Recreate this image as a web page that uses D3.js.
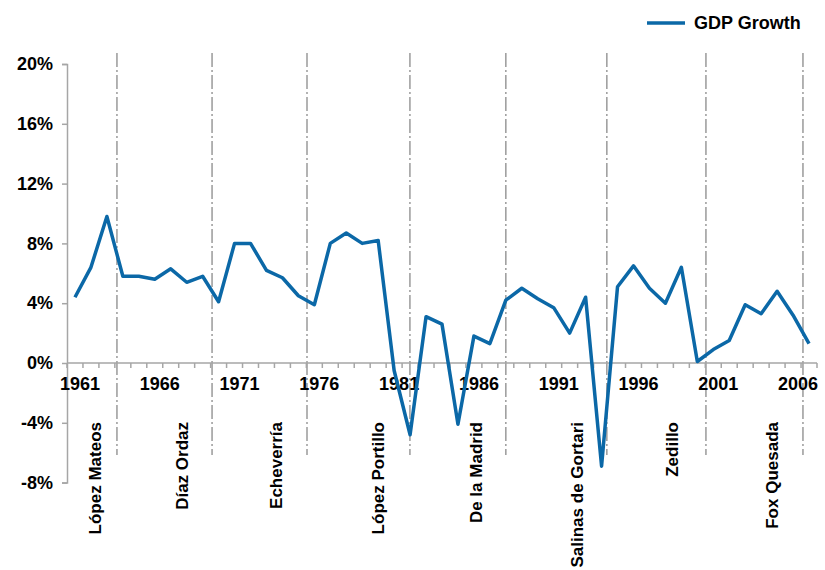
<body style="margin:0;background:#fff">
  <script src="https://d3js.org/d3.v7.min.js" charset="utf-8"></script>
  <script>
      // category years as labelled on the chart, and GDP growth (%)
      var years = [1961,1962,1963,1964,1965,1966,1967,1968,1969,1970,
                   1971,1972,1973,1974,1975,1976,1977,1978,1979,1980,
                   1981,1982,1983,1984,1985,1986,1987,1988,1989,1990,
                   1991,1992,1993,1994,1995,1996,1997,1998,1999,2000,
                   2001,2002,2003,2004,2005,2006,2007];
      var growth = [4.4,6.4,9.8,5.8,5.8,5.6,6.3,5.4,5.8,4.1,
                    8.0,8.0,6.2,5.7,4.5,3.9,8.0,8.7,8.0,8.2,
                    -0.5,-4.8,3.1,2.6,-4.1,1.8,1.3,4.2,5.0,4.3,
                    3.7,2.0,4.4,-6.9,5.1,6.5,5.0,4.0,6.4,0.1,
                    0.9,1.5,3.9,3.3,4.8,3.2,1.3];
      var yTicks = [-8,-4,0,4,8,12,16,20];
      var xLabelYears = [1961,1966,1971,1976,1981,1986,1991,1996,2001,2006];

      // presidential terms: where the dashed divider sits and where the name sits
      var presidents = ["López Mateos","Díaz Ordaz","Echeverría","López Portillo",
                        "De la Madrid","Salinas de Gortari","Zedillo","Fox Quesada"];
      var termEnds = [1963.63,1969.59,1975.54,1981.99,1988.0,1994.33,2000.54,2006.62];
      var nameAt = [1962.25,1967.71,1973.6,1979.99,1986.13,1992.46,1998.41,2004.68];

      var font = "'Liberation Sans', Arial, sans-serif";
      var blue = "#0b68a7";
      var grey = "#a6a6a6";

      var svg = d3.select("body").append("svg").attr("width", 825).attr("height", 570)
          .style("font-family", font).style("font-weight", "bold");

      var x = d3.scaleLinear().domain([1960.5, 2007.5]).range([67, 817]);
      var y = d3.scaleLinear().domain([-8, 20]).range([482.6, 64]);

      // president dividers
      svg.selectAll("line.term").data(termEnds).enter().append("line")
         .attr("class", "term")
         .attr("x1", function (d) { return x(d); })
         .attr("x2", function (d) { return x(d); })
         .attr("y1", 53).attr("y2", 455)
         .attr("stroke", "#9a9a9a").attr("stroke-width", 1.5)
         .attr("stroke-dasharray", "14,3,2,3");

      // y axis
      var yAxis = svg.append("g").attr("transform", "translate(" + x(1960.5) + ",0)")
         .call(d3.axisLeft(y).tickValues(yTicks).tickSize(5).tickPadding(9)
               .tickFormat(function (d) { return d + "%"; }));
      yAxis.select(".domain").attr("stroke", grey).attr("stroke-width", 1.5);
      yAxis.selectAll(".tick line").attr("stroke", grey).attr("stroke-width", 1.5);
      yAxis.selectAll("text").attr("font-size", 18).attr("font-family", font)
         .attr("font-weight", "bold").attr("fill", "#000");

      // x axis: minor ticks at category boundaries, labels every five years
      var bounds = years.map(function (d) { return d - 0.5; }).concat([2007.5]);
      var xAxis = svg.append("g").attr("transform", "translate(0," + y(0) + ")");
      xAxis.append("line").attr("x1", x(1960.5)).attr("x2", x(2007.5))
         .attr("stroke", grey).attr("stroke-width", 1.5);
      xAxis.selectAll("line.minor").data(bounds).enter().append("line")
         .attr("class", "minor")
         .attr("x1", function (d) { return x(d); })
         .attr("x2", function (d) { return x(d); })
         .attr("y1", 0).attr("y2", 5)
         .attr("stroke", grey).attr("stroke-width", 1.5);
      xAxis.selectAll("text").data(xLabelYears).enter().append("text")
         .attr("x", function (d) { return x(d) + 5; })
         .attr("y", 27)
         .attr("text-anchor", "middle").attr("font-size", 18)
         .text(function (d) { return d; });

      // president names
      svg.selectAll("text.pres").data(presidents).enter().append("text")
         .attr("class", "pres")
         .attr("transform", function (d, i) {
            return "translate(" + (x(nameAt[i]) + 6) + ",422) rotate(-90)";
         })
         .attr("text-anchor", "end").attr("font-size", 17)
         .text(function (d) { return d; });

      // growth line
      var line = d3.line()
         .x(function (d, i) { return x(years[i]); })
         .y(function (d) { return y(d); });
      svg.append("path").datum(growth)
         .attr("d", line)
         .attr("fill", "none").attr("stroke", blue).attr("stroke-width", 3.5)
         .attr("stroke-linejoin", "round");

      // legend
      svg.append("line").attr("x1", 647).attr("x2", 685).attr("y1", 23).attr("y2", 23)
         .attr("stroke", blue).attr("stroke-width", 3.5);
      svg.append("text").attr("x", 694).attr("y", 29).attr("font-size", 18)
         .text("GDP Growth");
  </script>
</body>
